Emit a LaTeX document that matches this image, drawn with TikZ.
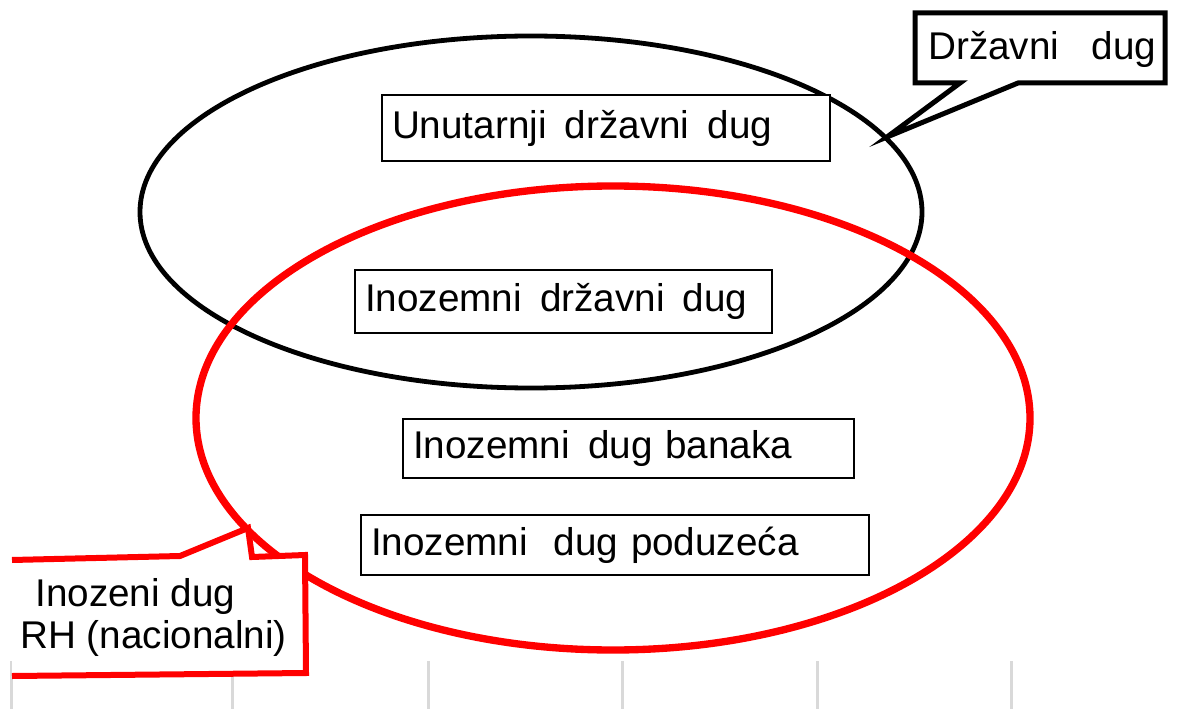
\documentclass[tikz,border=0pt]{standalone}
\usepackage{fontspec}
\setmainfont{Liberation Sans}
\definecolor{gridgray}{RGB}{217,217,217}
\definecolor{redline}{RGB}{255,0,0}
\newcommand{\wsp}{\ \hspace{4pt}}
\begin{document}
\begin{tikzpicture}[x=0.75pt,y=-0.75pt,
  lbl/.style={font=\fontsize{29}{34}\selectfont, inner sep=0pt},
  tbox/.style={draw=black, line width=1.5pt, fill=white, font=\fontsize{29}{34}\selectfont,
     inner xsep=7.5pt, inner ysep=0pt, align=left},
  gline/.style={draw=gridgray, line width=2.25pt},
]
\useasboundingbox (0,0) rectangle (1188,709);
% grid ticks
\foreach \gx in {11,232,428,622,817,1011}{
  \draw[gline] (\gx,661) -- (\gx,709);
}
% ellipses
\draw[line width=3.6pt] (531,212) ellipse [x radius=293.25pt, y radius=132pt];
\draw[redline, line width=5.5pt] (613,418) ellipse [x radius=312.75pt, y radius=174pt];
% boxes
\node[tbox, text width=321pt, minimum height=49.5pt] (unut) at (606,128) {Unutarnji\wsp državni\wsp dug};
\node[tbox, text width=297.75pt, minimum height=47.25pt] (inodr) at (563.5,301.5) {Inozemni\wsp državni\wsp dug};
\node[tbox, text width=323.25pt, minimum height=44.25pt] (banaka) at (628.5,448.5) {Inozemni\wsp dug banaka};
\node[tbox, text width=366pt, minimum height=45pt] (poduz) at (615,545) {Inozemni\ \ dug poduzeća};
% Državni dug callout
\coordinate (dtip) at (887,137);
\filldraw[fill=white, draw=black, line width=3.75pt, line join=miter]
  (915,13) -- (1165,13) -- (1165,83) -- (1018,83) -- (dtip) -- (960,83) -- (915,83) -- cycle;
\node[lbl, anchor=west] (drz) at (928,49) {Državni\ \ \ dug};
% Inozeni dug callout
\coordinate (rtip) at (248,528);
\filldraw[fill=white, draw=redline, line width=4.5pt, line join=miter]
  (12,560) -- (180,556) -- (rtip) -- (252,557) -- (305,555) -- (306,673) -- (12,676);
\node[lbl, anchor=west] (ino1) at (35,596) {Inozeni dug};
\node[lbl, anchor=west] (ino2) at (20,638) {RH (nacionalni)};
\end{tikzpicture}
\end{document}
